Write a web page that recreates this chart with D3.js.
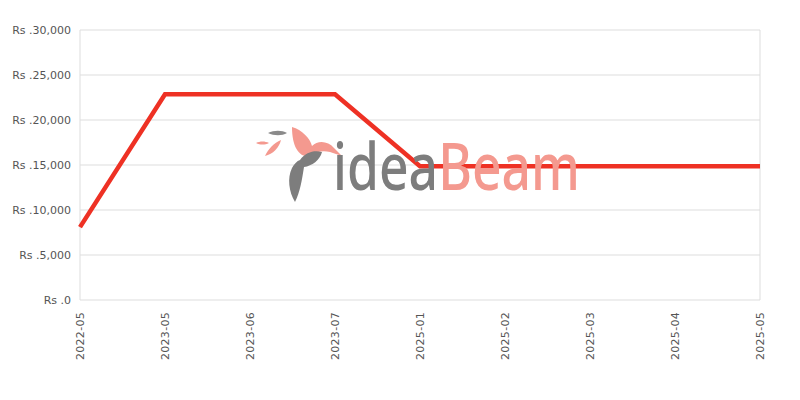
<!DOCTYPE html>
<html>
<head>
<meta charset="utf-8">
<script src="https://cdn.jsdelivr.net/npm/d3@7"></script>
<style>
  body { margin: 0; background: #fff; }
  svg { font-family: "DejaVu Sans", sans-serif; }
</style>
</head>
<body>
<div id="chart"></div>
<script>
const months = ["2022-05", "2023-05", "2023-06", "2023-07", "2025-01", "2025-02", "2025-03", "2025-04", "2025-05"];
const prices = [8100, 22850, 22850, 22850, 14870, 14870, 14870, 14870, 14870];
const yTicks = [0, 5000, 10000, 15000, 20000, 25000, 30000];

const width = 800, height = 400;
const margin = {top: 30, right: 40, bottom: 100, left: 80};
const innerW = width - margin.left - margin.right;
const innerH = height - margin.top - margin.bottom;

const svg = d3.select("#chart").append("svg")
    .attr("width", width)
    .attr("height", height);

const x = d3.scalePoint().domain(months).range([0, innerW]);
const y = d3.scaleLinear().domain([0, 30000]).range([innerH, 0]);

const g = svg.append("g")
    .attr("transform", `translate(${margin.left},${margin.top})`);

// horizontal grid
g.selectAll(".grid")
    .data(yTicks)
    .enter().append("line")
    .attr("class", "grid")
    .attr("x1", 0).attr("x2", innerW)
    .attr("y1", d => y(d)).attr("y2", d => y(d))
    .attr("stroke", "#dddddd")
    .attr("stroke-width", 1);

// side borders
g.selectAll(".vborder")
    .data([months[0], months[months.length - 1]])
    .enter().append("line")
    .attr("x1", d => x(d)).attr("x2", d => x(d))
    .attr("y1", 0).attr("y2", innerH)
    .attr("stroke", "#dddddd");

// y axis labels
const fmt = d3.format(",");
g.append("g")
    .call(d3.axisLeft(y).tickValues(yTicks).tickSize(0).tickPadding(9)
        .tickFormat(d => "Rs ." + fmt(d)))
    .call(a => a.select(".domain").remove())
    .selectAll("text")
    .attr("fill", "#555")
    .style("font-size", "11px")
    .style("font-family", "DejaVu Sans, sans-serif");

// x axis labels
g.append("g")
    .attr("transform", `translate(0,${innerH})`)
    .call(d3.axisBottom(x).tickSize(0))
    .call(a => a.select(".domain").remove())
    .selectAll("text")
    .attr("fill", "#555")
    .style("font-size", "11px")
    .style("font-family", "DejaVu Sans, sans-serif")
    .style("letter-spacing", "0.3px")
    .style("text-anchor", "end")
    .attr("x", -12)
    .attr("y", 0)
    .attr("dy", "0.35em")
    .attr("transform", "rotate(-90)");

// watermark logo
const logo = svg.append("g");
logo.append("path")
    .attr("d", "M268,133 C274,130 282,130 287,133 C282,136 274,136 268,133 Z")
    .attr("fill", "#8a8a8a");
logo.append("path")
    .attr("d", "M256,143 C260,141 265,141 269,143 C265,145 260,145 256,143 Z")
    .attr("fill", "#f4998f");
logo.append("path")
    .attr("d", "M265,156 C268,149 274,143 281,140 C279,148 273,154 265,156 Z")
    .attr("fill", "#f4998f");
logo.append("path")
    .attr("d", "M292,127 C302,130 310,138 312,146 C318,140 328,141 334,148 L342,156 L330,152 C322,150 316,152 310,156 C300,158 292,148 292,127 Z")
    .attr("fill", "#f4998f");
logo.append("path")
    .attr("d", "M300,160 C306,152 314,150 322,152 C320,160 312,166 304,167 C302,180 300,192 295,202 C289,192 287,178 292,168 C294,164 297,161 300,160 Z")
    .attr("fill", "#7d7d7d");

// brand text, squeezed horizontally to fit the 333..580 span
const brand = logo.append("g");
const word1 = brand.append("text")
    .attr("x", 0).attr("y", 0)
    .style("font-family", "Noto Sans, sans-serif")
    .style("font-weight", "500")
    .style("font-size", "66px")
    .attr("fill", "#7d7d7d")
    .text("idea");
const w1 = word1.node().getComputedTextLength();
const word2 = brand.append("text")
    .attr("x", w1).attr("y", 0)
    .style("font-family", "Noto Sans, sans-serif")
    .style("font-weight", "500")
    .style("font-size", "66px")
    .attr("fill", "#f4998f")
    .text("Beam");
const w2 = word2.node().getComputedTextLength();
const sx = 247 / (w1 + w2);
brand.attr("transform", `translate(333,190) scale(${sx},1)`);

// price line
g.append("path")
    .datum(prices)
    .attr("fill", "none")
    .attr("stroke", "#ee3124")
    .attr("stroke-width", 4.5)
    .attr("d", d3.line()
        .x((d, i) => x(months[i]))
        .y(d => y(d)));
</script>
</body>
</html>
